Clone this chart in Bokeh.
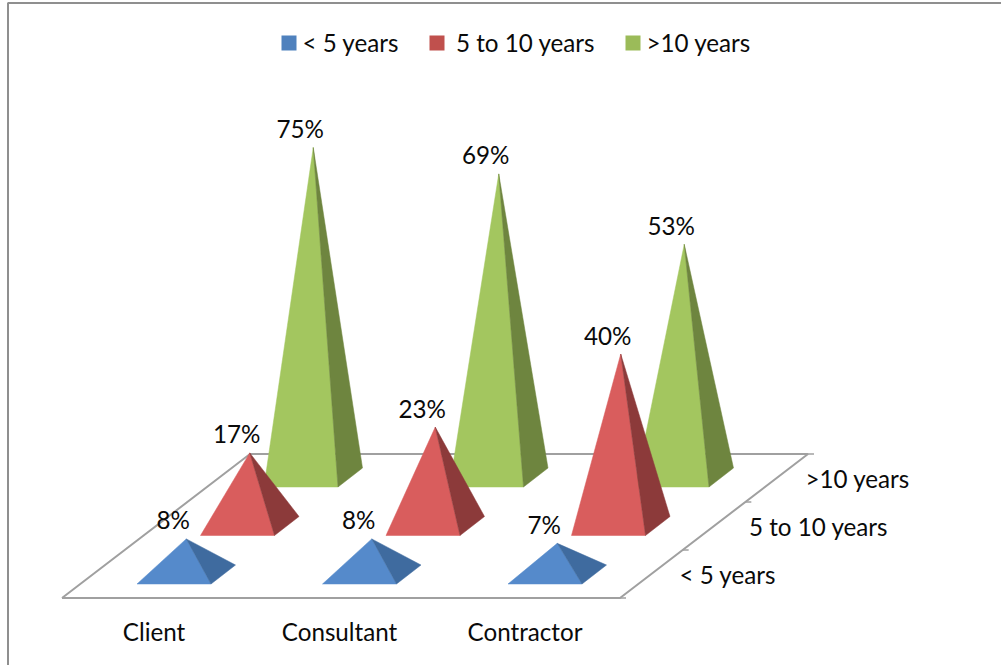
from bokeh.core.properties import value
from bokeh.embed import file_html
from bokeh.models import Range1d
from bokeh.plotting import figure
from bokeh.resources import INLINE

categories = ["Client", "Consultant", "Contractor"]
series_names = ["< 5 years", "5 to 10 years", ">10 years"]
under_5 = [8, 8, 7]
from_5_to_10 = [17, 23, 40]
over_10 = [75, 69, 53]
series_values = [under_5, from_5_to_10, over_10]

FONT = value("Lato")
TEXT = "#0a0a0a"
LABEL_SIZE = "24.2px"

# Oblique projection of (category, series, percent) onto the page, y pointing down.
ORIGIN = (136.5, 583.5)
CAT_STEP = 185.5
SERIES_STEP = (63.5, -48.5)
BASE_WIDTH = 74.0
BASE_DEPTH = (24.5, -19.0)
# Pixels per percent for each series, front to back.
PX_PER_PERCENT = [4.45, 4.3, 4.4]


def base_corner(cat, ser, across=0.0, back=0.0):
    x = ORIGIN[0] + CAT_STEP * cat + SERIES_STEP[0] * ser + BASE_WIDTH * across + BASE_DEPTH[0] * back
    y = ORIGIN[1] + SERIES_STEP[1] * ser + BASE_DEPTH[1] * back
    return x, y


def apex(cat, ser, percent):
    x, y = base_corner(cat, ser, 0.5, 0.5)
    return x, y - percent * PX_PER_PERCENT[ser]


p = figure(
    width=1001, height=665, output_backend="svg", toolbar_location=None,
    x_range=Range1d(0, 1001), y_range=Range1d(665, 0),
    min_border=0, outline_line_color=None, background_fill_color="white",
)
p.axis.visible = False
p.grid.visible = False

# Chart frame: only the top and left edges fall inside the page.
p.line([7.5, 7.5, 1001], [665, 2.5, 2.5], line_color="#8f8f8f", line_width=2)

# Floor outline and the tick marks along its right edge.
front_left = (61.5, 597.5)
front_right = (619.5, 597.5)
back_right = (807.5, 453.5)
back_left = (249.5, 453.5)
floor = [front_left, front_right, back_right, back_left, front_left]
p.line([c[0] for c in floor], [c[1] for c in floor], line_color="#a0a0a0", line_width=2)
for s in range(len(series_names) + 1):
    t = s / len(series_names)
    tx = front_right[0] + (back_right[0] - front_right[0]) * t
    ty = front_right[1] + (back_right[1] - front_right[1]) * t
    p.line([tx, tx + 6], [ty, ty], line_color="#a0a0a0", line_width=1.5)

front_colors = ["#558ACB", "#D95D5D", "#A3C65F"]
side_colors = ["#3F6B9F", "#8C3A3A", "#6E853F"]

# Rear series first, so nearer pyramids cover those behind them.
for ser in reversed(range(len(series_names))):
    for cat, percent in enumerate(series_values[ser]):
        fl = base_corner(cat, ser)
        fr = base_corner(cat, ser, 1.0)
        br = base_corner(cat, ser, 1.0, 1.0)
        top = apex(cat, ser, percent)
        p.patch([fl[0], fr[0], top[0]], [fl[1], fr[1], top[1]],
                fill_color=front_colors[ser], line_color=front_colors[ser], line_width=0.5)
        p.patch([fr[0], br[0], top[0]], [fr[1], br[1], top[1]],
                fill_color=side_colors[ser], line_color=side_colors[ser], line_width=0.5)

# Percent labels sit up and to the left of each apex.
for ser, values in enumerate(series_values):
    for cat, percent in enumerate(values):
        ax, ay = apex(cat, ser, percent)
        p.text([ax - 13], [ay - 19], text=[f"{percent}%"], text_font=FONT, text_font_size=LABEL_SIZE,
               text_align="center", text_baseline="middle", text_color=TEXT)

# Category names under the front edge of the floor.
for cat, name in enumerate(categories):
    p.text([153.5 + CAT_STEP * cat], [631], text=[name], text_font=FONT, text_font_size=LABEL_SIZE,
           text_align="center", text_baseline="middle", text_color=TEXT)

# Series names beside the right edge of the floor.
series_label_left = [679, 748.5, 805]
series_label_mid = [574, 526, 478]
for name, lx, ly in zip(series_names, series_label_left, series_label_mid):
    p.text([lx], [ly], text=[name], text_font=FONT, text_font_size=LABEL_SIZE,
           text_align="left", text_baseline="middle", text_color=TEXT)

# Legend row.
swatch_left = [281, 429, 625]
legend_text_left = [302, 455.5, 646]
legend_colors = ["#4F81BD", "#C0504D", "#9BBB59"]
for name, sx, tx, color in zip(series_names, swatch_left, legend_text_left, legend_colors):
    p.quad(left=[sx], right=[sx + 15], top=[35], bottom=[50], fill_color=color, line_color=None)
    p.text([tx], [42], text=[name], text_font=FONT, text_font_size=LABEL_SIZE,
           text_align="left", text_baseline="middle", text_color=TEXT)

open("out.html", "w").write(file_html(p, INLINE))
